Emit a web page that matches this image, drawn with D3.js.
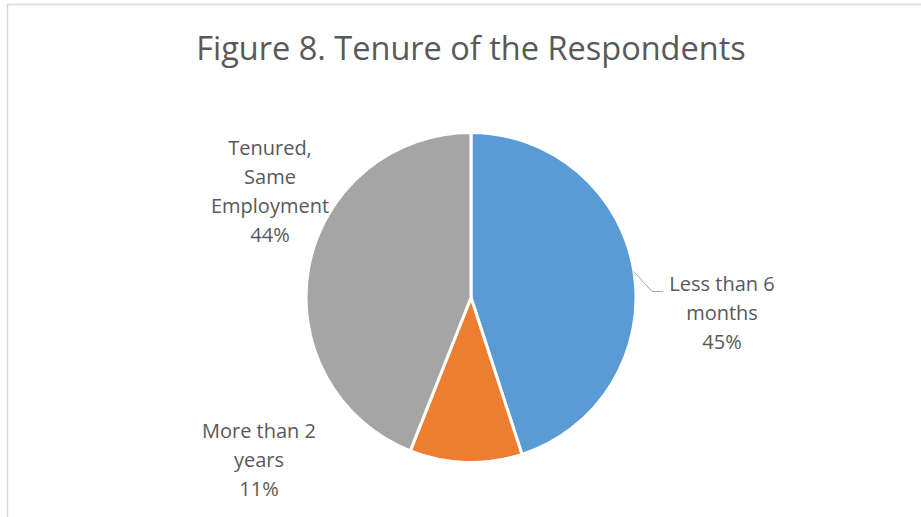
<!DOCTYPE html>
<html>
<head>
<meta charset="utf-8">
<script src="https://cdn.jsdelivr.net/npm/d3@7"></script>
<style>
  html, body { margin: 0; padding: 0; background: #ffffff; }
  svg { display: block; }
</style>
</head>
<body>
<svg id="chart" width="921" height="517"></svg>
<script>
// Tenure breakdown of respondents (percent)
const categories = ["Less than 6 months", "More than 2 years", "Tenured, Same Employment"];
const values = [45, 11, 44];
const colors = ["#5b9bd5", "#ed7d31", "#a5a5a5"];
// Label lines as they wrap on the chart
const labelLines = [
  ["Less than 6", "months", "45%"],
  ["More than 2", "years", "11%"],
  ["Tenured,", "Same", "Employment", "44%"]
];
const titleText = "Figure 8. Tenure of the Respondents";

const svg = d3.select("#chart");
const W = 921, H = 517;
const font = "'Open Sans', 'Liberation Sans', sans-serif";
const textColor = "#595959";

// chart-area frame
svg.append("rect")
  .attr("x", 7.5).attr("y", 4.5)
  .attr("width", 930).attr("height", 530)
  .attr("fill", "#ffffff")
  .attr("stroke", "#d9d9d9").attr("stroke-width", 1.5);

// title
svg.append("text")
  .attr("x", 471).attr("y", 60)
  .attr("text-anchor", "middle")
  .attr("font-family", font)
  .attr("font-size", 32.5)
  .attr("fill", textColor)
  .text(titleText);

const cx = 471, cy = 297.5, r = 165;
const g = svg.append("g").attr("transform", `translate(${cx},${cy})`);

const pie = d3.pie().sort(null).value(d => d)(values);
const arc = d3.arc().innerRadius(0).outerRadius(r);

g.selectAll("path.slice")
  .data(pie)
  .join("path")
  .attr("class", "slice")
  .attr("d", arc)
  .attr("fill", (d, i) => colors[i])
  .attr("stroke", "#ffffff")
  .attr("stroke-width", 3)
  .attr("stroke-linejoin", "round");

// label anchor positions (centre of the first line), relative to the pie centre
const labelPos = [
  { x: 251, y: -13.5 },
  { x: -212, y: 133 },
  { x: -201, y: -149.5 }
];
const lineH = 29;

pie.forEach((d, i) => {
  const t = g.append("text")
    .attr("text-anchor", "middle")
    .attr("font-family", font)
    .attr("font-size", 20)
    .attr("fill", textColor);
  labelLines[i].forEach((s, k) => {
    t.append("tspan")
      .attr("x", labelPos[i].x)
      .attr("y", labelPos[i].y + k * lineH)
      .attr("dy", "0.35em")
      .text(s);
  });
});

// leader line for the first slice
const mid = (pie[0].startAngle + pie[0].endAngle) / 2;
const p0 = [Math.sin(mid) * r, -Math.cos(mid) * r];
const lead = d3.line()([
  p0,
  [181, -6],
  [192, -6]
]);
g.append("path")
  .attr("d", lead)
  .attr("fill", "none")
  .attr("stroke", "#a6a6a6")
  .attr("stroke-width", 1);
</script>
</body>
</html>
